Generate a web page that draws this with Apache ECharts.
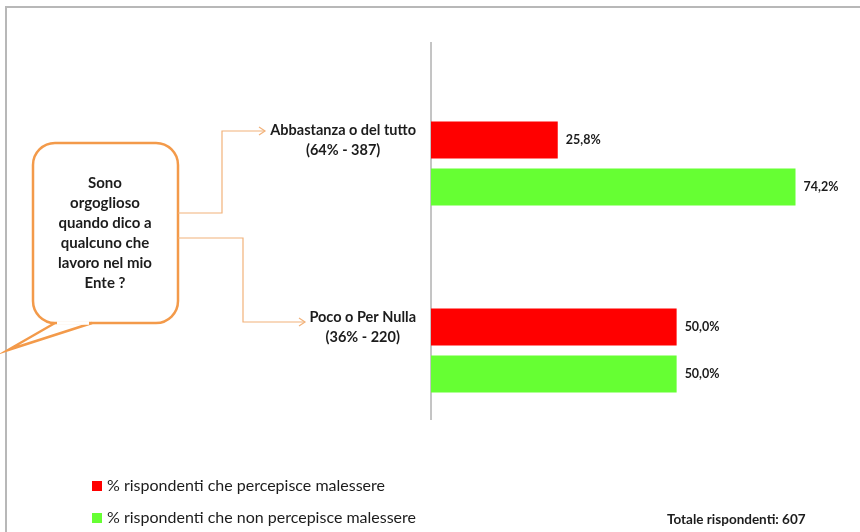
<!DOCTYPE html>
<html>
<head>
<meta charset="utf-8">
<script src="https://cdn.jsdelivr.net/npm/echarts@6/dist/echarts.min.js"></script>
<style>
html,body{margin:0;padding:0;background:#fff;}
#chart{width:860px;height:532px;}
</style>
</head>
<body>
<div id="chart"></div>
<script>
const categories = ['Abbastanza o del tutto', 'Poco o Per Nulla'];
const categoryDetails = ['(64% - 387)', '(36% - 220)'];
const seriesNames = ['% rispondenti che percepisce malessere', '% rispondenti che non percepisce malessere'];
const malessere = [25.8, 50.0];
const nonMalessere = [74.2, 50.0];
const questionText = 'Sono\norgoglioso\nquando dico a\nqualcuno che\nlavoro nel mio\nEnte ?';
const totalText = 'Totale rispondenti: 607';

const FONT = 'Lato, "Open Sans", sans-serif';
const ORANGE = '#F39A4A';
const ORANGE_LIGHT = '#F2B27A';
const INK = '#1c1c1c';

const chart = echarts.init(document.getElementById('chart'), null, {renderer: 'canvas'});

const fmt = v => v.toFixed(1).replace('.', ',') + '%';

const labelStyle = {
  show: true, position: 'right', distance: 8,
  formatter: p => fmt(p.value),
  fontFamily: FONT, fontWeight: 'bold', fontSize: 12.5, color: INK
};

chart.setOption({
  animation: false,
  backgroundColor: '#fff',
  grid: {left: 431, right: 36, top: 70, bottom: 88, containLabel: false},
  xAxis: {
    type: 'value', min: 0, max: 80,
    show: false
  },
  yAxis: {
    type: 'category', inverse: true, data: categories,
    axisLine: {show: false}, axisTick: {show: false}, splitLine: {show: false},
    axisLabel: {
      align: 'right', margin: 15, padding: [0, 0, 46, 0],
      formatter: (v, i) => '{a|' + v + '}\n{a|' + categoryDetails[i] + '}',
      rich: {a: {align: 'center', fontFamily: FONT, fontWeight: 'bold', fontSize: 14.5, lineHeight: 20, color: INK}}
    }
  },
  legend: {
    data: seriesNames, orient: 'vertical', left: 92, top: 477,
    itemWidth: 10, itemHeight: 10, icon: 'rect', itemGap: 14, padding: 0,
    textStyle: {fontFamily: FONT, fontSize: 16, color: INK, lineHeight: 18}
  },
  series: [
    {name: seriesNames[0], type: 'bar', data: malessere, barWidth: 37, barGap: '27%',
     itemStyle: {color: '#FF0000'}, label: labelStyle},
    {name: seriesNames[1], type: 'bar', data: nonMalessere, barWidth: 37, barGap: '27%',
     itemStyle: {color: '#66FF33'}, label: labelStyle}
  ],
  graphic: [
    {type: 'polyline', shape: {points: [[6, 532], [6, 7], [860, 7]]}, style: {stroke: '#b8b8b8', lineWidth: 2, fill: null}},
    {type: 'line', shape: {x1: 431, y1: 42, x2: 431, y2: 420}, style: {stroke: '#8a8a8a', lineWidth: 1}},
    {type: 'rect', shape: {x: 33, y: 143, width: 145, height: 180, r: 22},
     style: {fill: '#fff', stroke: ORANGE, lineWidth: 2.5}},
    {type: 'polyline', shape: {points: [[55, 323], [8, 350], [92, 323]]},
     style: {fill: null, stroke: ORANGE, lineWidth: 2.5}},
    {type: 'line', shape: {x1: 57, y1: 323, x2: 89, y2: 323}, style: {stroke: '#fff', lineWidth: 3.5}},
    {type: 'text', x: 105, y: 233, style: {text: questionText, textAlign: 'center', textVerticalAlign: 'middle',
      font: 'bold 15px ' + FONT, lineHeight: 20, fill: INK}},
    {type: 'polyline', shape: {points: [[178, 213], [222, 213], [222, 131], [265, 131]]}, style: {stroke: ORANGE_LIGHT, lineWidth: 1.2, fill: null}},
    {type: 'polyline', shape: {points: [[259, 127], [265, 131], [259, 135]]}, style: {stroke: ORANGE_LIGHT, lineWidth: 1.2, fill: null}},
    {type: 'polyline', shape: {points: [[178, 238], [243, 238], [243, 322], [305, 322]]}, style: {stroke: ORANGE_LIGHT, lineWidth: 1.2, fill: null}},
    {type: 'polyline', shape: {points: [[299, 318], [305, 322], [299, 326]]}, style: {stroke: ORANGE_LIGHT, lineWidth: 1.2, fill: null}},
    {type: 'text', x: 667, y: 520, style: {text: totalText, textAlign: 'left', textVerticalAlign: 'middle',
      font: 'bold 13.5px ' + FONT, fill: INK}}
  ]
});
</script>
</body>
</html>
